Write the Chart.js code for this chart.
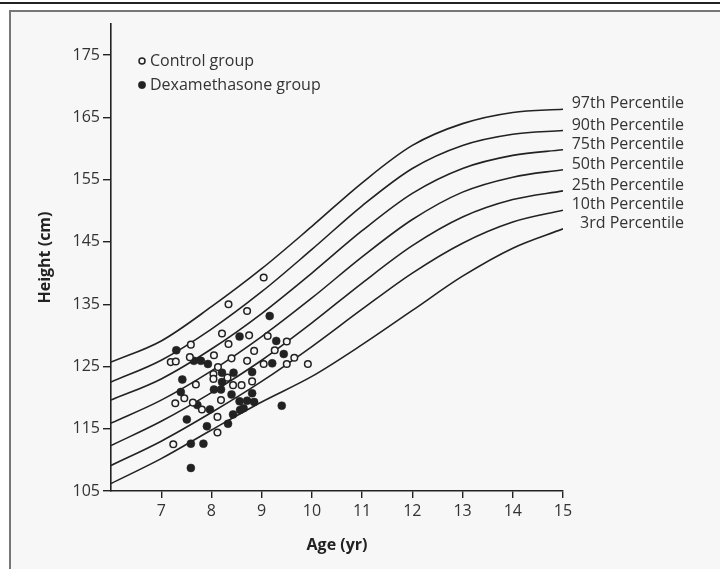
<!DOCTYPE html>
<html>
<head>
<meta charset="utf-8">
<script src="https://cdn.jsdelivr.net/npm/chart.js@4.4.1/dist/chart.umd.min.js"></script>
<style>
  html, body { margin: 0; padding: 0; background: #fff; }
  #wrap { position: relative; width: 720px; height: 569px; overflow: hidden; }
  #rule { position: absolute; left: 0; top: 2px; width: 720px; height: 2px; background: #222; }
  #panel { position: absolute; left: 9px; top: 10px; width: 720px; height: 570px;
           background: #f7f7f7; border-left: 2px solid #777; border-top: 2px solid #777; }
  canvas { position: absolute; left: 0; top: 0; }
</style>
</head>
<body>
<div id="wrap">
  <div id="rule"></div>
  <div id="panel"></div>
  <canvas id="growthChart" width="720" height="569"></canvas>
</div>
<script>
// percentile curves (height in cm at each age)
const curveAges = [6, 7, 8, 9, 10, 11, 12, 13, 14, 15];
const p97 = [125.7, 129.1, 134.6, 140.7, 147.5, 154.5, 160.5, 164.0, 165.8, 166.3];
const p90 = [122.5, 126.0, 131.0, 137.0, 143.8, 150.8, 156.8, 160.5, 162.3, 162.9];
const p75 = [119.6, 123.0, 127.8, 133.5, 140.0, 146.8, 152.8, 156.8, 158.9, 159.8];
const p50 = [115.9, 119.6, 124.3, 129.8, 136.0, 142.6, 148.6, 153.0, 155.4, 156.6];
const p25 = [112.3, 116.2, 120.8, 126.0, 132.0, 138.4, 144.4, 149.0, 151.8, 153.2];
const p10 = [109.1, 113.0, 117.6, 122.6, 128.2, 134.2, 140.0, 144.8, 148.2, 150.1];
const p3  = [106.2, 110.2, 114.8, 119.3, 123.4, 128.5, 134.0, 139.5, 144.0, 147.1];
const percentileLabels = ['97th Percentile', '90th Percentile', '75th Percentile', '50th Percentile',
                          '25th Percentile', '10th Percentile', '3rd Percentile'];

// children
const controlAge = [9.04, 8.34, 8.71, 8.21, 8.75, 9.12, 9.50, 8.34, 7.59, 8.85, 9.26, 8.05, 7.57,
                    9.65, 8.40, 7.19, 7.29, 8.71, 8.13, 9.04, 9.50, 9.92, 8.04, 8.32, 8.04, 8.81,
                    7.69, 8.43, 8.60, 7.46, 7.28, 7.63, 8.19, 7.81, 8.12, 8.12, 7.24];
const controlHeight = [139.3, 135.0, 133.9, 130.3, 130.0, 129.9, 129.0, 128.6, 128.5, 127.5, 127.6,
                       126.8, 126.5, 126.4, 126.3, 125.7, 125.8, 125.9, 124.9, 125.4, 125.4, 125.4,
                       123.8, 123.2, 123.0, 122.6, 122.1, 122.0, 122.0, 119.9, 119.1, 119.2, 119.6,
                       118.1, 116.9, 114.4, 112.5];
const dexAge = [9.16, 8.56, 9.29, 7.30, 9.44, 7.65, 7.79, 7.93, 9.21, 8.21, 8.44, 8.81, 7.42, 8.21,
                8.05, 8.19, 7.39, 8.81, 8.40, 7.72, 8.56, 8.71, 8.85, 8.57, 8.64, 7.97, 9.40, 8.43,
                7.51, 8.33, 7.91, 7.59, 7.84, 7.59];
const dexHeight = [133.1, 129.8, 129.1, 127.6, 127.0, 125.9, 125.9, 125.4, 125.5, 124.0, 124.0, 124.1,
                   122.9, 122.5, 121.3, 121.3, 120.9, 120.7, 120.5, 118.8, 119.4, 119.5, 119.3, 118.0,
                   118.3, 118.1, 118.7, 117.3, 116.5, 115.8, 115.4, 112.6, 112.6, 108.7];

const xTickValues = [7, 8, 9, 10, 11, 12, 13, 14, 15];
const yTickValues = [105, 115, 125, 135, 145, 155, 165, 175];

const INK = '#222';
const TEXT = '#333';
const PANEL_BG = '#f7f7f7';
const FONT = "'Open Sans', sans-serif";

Chart.defaults.font.family = FONT;
Chart.defaults.color = TEXT;

const toPoints = (xs, ys) => xs.map((v, i) => ({ x: v, y: ys[i] }));

const curves = [p97, p90, p75, p50, p25, p10, p3].map((vals, i) => ({
  label: percentileLabels[i],
  curveLabel: percentileLabels[i],
  data: toPoints(curveAges, vals),
  showLine: true,
  borderColor: INK,
  borderWidth: 1.6,
  pointRadius: 0,
  cubicInterpolationMode: 'monotone',
  order: 3
}));

// draws the little legend and the percentile names at the curve ends
const annotate = {
  id: 'annotate',
  afterDatasetsDraw(chart) {
    const { ctx, chartArea, scales: { x, y } } = chart;
    ctx.save();
    ctx.font = '16px ' + FONT;
    ctx.fillStyle = TEXT;
    ctx.textBaseline = 'middle';

    ctx.textAlign = 'right';
    chart.data.datasets.forEach(ds => {
      if (!ds.curveLabel) return;
      const last = ds.data[ds.data.length - 1];
      ctx.fillText(ds.curveLabel, x.getPixelForValue(last.x) + 121, y.getPixelForValue(last.y) - 5.5);
    });

    ctx.textAlign = 'left';
    let row = 0;
    chart.data.datasets.forEach(ds => {
      if (!ds.inLegend) return;
      const cx = chartArea.left + 31;
      const cy = chartArea.top + 37 + row * 24;
      ctx.beginPath();
      ctx.arc(cx, cy, ds.pointRadius - 0.3, 0, Math.PI * 2);
      ctx.fillStyle = ds.pointBackgroundColor;
      ctx.fill();
      ctx.lineWidth = ds.pointBorderWidth;
      ctx.strokeStyle = ds.pointBorderColor;
      ctx.stroke();
      ctx.fillStyle = TEXT;
      ctx.fillText(ds.label, cx + 8, cy);
      row++;
    });
    ctx.restore();
  }
};

new Chart(document.getElementById('growthChart'), {
  type: 'scatter',
  data: {
    datasets: [
      {
        label: 'Control group',
        inLegend: true,
        data: toPoints(controlAge, controlHeight),
        pointRadius: 3.3,
        pointBorderWidth: 1.5,
        pointBackgroundColor: PANEL_BG,
        pointBorderColor: INK,
        order: 1
      },
      {
        label: 'Dexamethasone group',
        inLegend: true,
        data: toPoints(dexAge, dexHeight),
        pointRadius: 4,
        pointBorderWidth: 0.5,
        pointBackgroundColor: INK,
        pointBorderColor: INK,
        order: 2
      },
      ...curves
    ]
  },
  options: {
    responsive: false,
    animation: false,
    layout: { padding: { left: 0, top: 24, right: 157, bottom: 0 } },
    plugins: { legend: { display: false }, tooltip: { enabled: false } },
    scales: {
      x: {
        type: 'linear',
        min: 6,
        max: 15,
        afterBuildTicks: s => { s.ticks = xTickValues.map(v => ({ value: v })); },
        afterFit: s => { s.height = 78; },
        border: { display: true, color: INK, width: 1.6 },
        grid: { display: true, drawOnChartArea: false, drawTicks: true, tickLength: 7, color: INK, lineWidth: 1.4 },
        ticks: { font: { size: 16 }, padding: 4, maxRotation: 0, autoSkip: false },
        title: { display: true, text: 'Age (yr)', color: INK,
                 font: { size: 16, weight: 'bold' }, padding: { top: 0, bottom: 14 } }
      },
      y: {
        type: 'linear',
        min: 105,
        max: 180,
        afterBuildTicks: s => { s.ticks = yTickValues.map(v => ({ value: v })); },
        afterFit: s => { s.width = 111; },
        border: { display: true, color: INK, width: 1.6 },
        grid: { display: true, drawOnChartArea: false, drawTicks: true, tickLength: 8, color: INK, lineWidth: 1.4 },
        ticks: { font: { size: 16 }, padding: 3 },
        title: { display: true, text: 'Height (cm)', color: INK,
                 font: { size: 16, weight: 'bold' }, padding: { top: 36, bottom: 0 } }
      }
    }
  },
  plugins: [annotate]
});
</script>
</body>
</html>
